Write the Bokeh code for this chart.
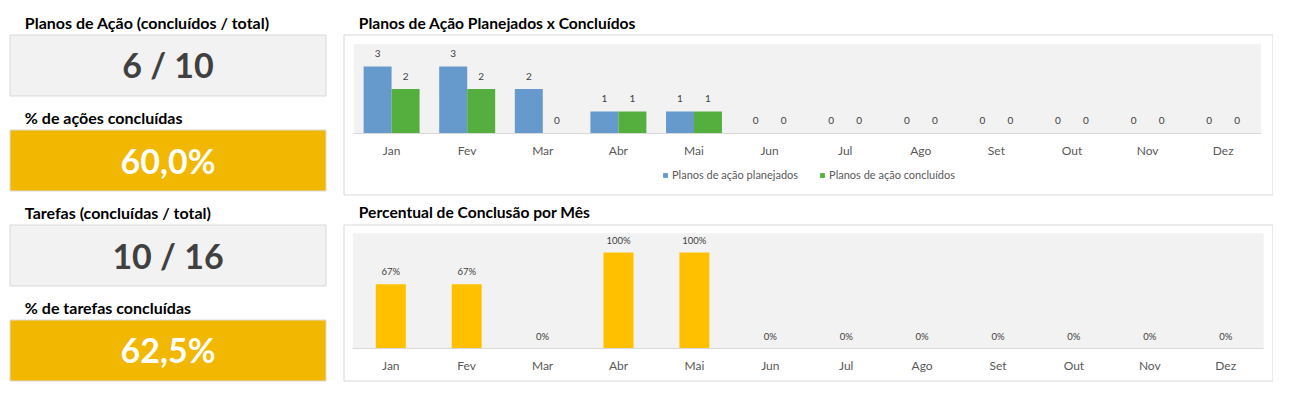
from bokeh.plotting import figure
from bokeh.models import Range1d, LinearAxis, FixedTicker, ColumnDataSource, Legend, LegendItem, Grid
from bokeh.core.properties import value
from bokeh.transform import dodge
from bokeh.embed import file_html
from bokeh.resources import INLINE

# ---------------- data ----------------
months = ["Jan", "Fev", "Mar", "Abr", "Mai", "Jun", "Jul", "Ago", "Set", "Out", "Nov", "Dez"]
planejados = [3, 3, 2, 1, 1, 0, 0, 0, 0, 0, 0, 0]
concluidos = [2, 2, 0, 1, 1, 0, 0, 0, 0, 0, 0, 0]
percentual = [0.67, 0.67, 0.0, 1.0, 1.0, 0.0, 0.0, 0.0, 0.0, 0.0, 0.0, 0.0]

kpi_titles = ["Planos de Ação (concluídos / total)", "% de ações concluídas",
              "Tarefas (concluídas / total)", "% de tarefas concluídas"]
kpi_values = ["6 / 10", "60,0%", "10 / 16", "62,5%"]
chart_titles = ["Planos de Ação Planejados x Concluídos", "Percentual de Conclusão por Mês"]
legend_labels = ["Planos de ação planejados", "Planos de ação concluídos"]

# ---------------- styles / layout (pixels) ----------------
W, H = 1273, 382
FONT = "Lato"
C_BLUE, C_GREEN, C_GOLD_BAR, C_GOLD_BOX = "#6699CC", "#55AF3E", "#FFC000", "#F2B700"
C_LIGHT, C_BORDER = "#F2F2F2", "#D9D9D9"

p = figure(width=W, height=H, x_range=Range1d(0, W), y_range=Range1d(H, 0),
           output_backend="svg", toolbar_location=None, tools="",
           x_axis_location=None, y_axis_location=None, min_border=0,
           outline_line_color=None, background_fill_color="white", border_fill_color="white")
p.center = [c for c in p.center if not isinstance(c, Grid)]

# ---- KPI panel ----
kpi = ColumnDataSource(dict(
    left=[9.5] * 4, right=[325.5] * 4,
    top=[34.5, 129.5, 224.5, 319.5], bottom=[95.5, 190.5, 285.5, 380.5],
    fill=[C_LIGHT, C_GOLD_BOX, C_LIGHT, C_GOLD_BOX],
    vcol=["#404040", "#FFFFFF", "#404040", "#FFFFFF"],
    tx=[24.3] * 4, ty=[22.0, 117.2, 212.0, 306.5],
    vx=[167.5] * 4, vy=[64.0, 159.8, 254.5, 349.3],
    title=kpi_titles, val=kpi_values))
p.quad(left="left", right="right", top="top", bottom="bottom", source=kpi,
       fill_color="fill", line_color=C_BORDER, line_width=1)
p.text(x="tx", y="ty", text="title", source=kpi, text_font=value(FONT),
       text_font_style="bold", text_font_size="16px", text_color="#000000",
       text_align="left", text_baseline="middle")
p.text(x="vx", y="vy", text="val", source=kpi, text_font=value(FONT),
       text_font_style="bold", text_font_size="34px", text_color="vcol",
       text_align="center", text_baseline="middle")

# ---- chart frames ----
p.quad(left=[343.5, 343.5], right=[1272.5, 1272.5], top=[34.5, 224.5], bottom=[194.5, 380.5],
       fill_color="white", line_color=C_BORDER, line_width=1)
p.text(x=[358.3, 358.3], y=[22.0, 211.8], text=chart_titles, text_font=value(FONT),
       text_font_style="bold", text_font_size="15.6px", text_color="#000000",
       text_align="left", text_baseline="middle")

idx = list(range(len(months)))
labels = {i: m for i, m in enumerate(months)}


def add_chart(name, j0, per, zero, unit, ymax):
    p.extra_x_ranges[name + "x"] = Range1d((0 - j0) / per, (W - j0) / per)
    p.extra_y_ranges[name + "y"] = Range1d((zero - H) / unit, zero / unit)
    kw = dict(x_range_name=name + "x", y_range_name=name + "y")
    p.quad(left=[-0.5], right=[len(months) - 0.5], bottom=[0], top=[ymax],
           fill_color=C_LIGHT, line_color=None, **kw)
    ax = LinearAxis(fixed_location=0, ticker=FixedTicker(ticks=idx),
                    major_label_overrides=labels, bounds=(-0.5, len(months) - 0.5),
                    axis_line_color=C_BORDER, axis_line_width=1,
                    major_tick_line_color=None, minor_tick_line_color=None,
                    major_label_standoff=3, major_label_text_font=FONT,
                    major_label_text_font_size="12px", major_label_text_color="#595959", **kw)
    p.add_layout(ax, "below")
    return kw


# ---- chart 1: planejados x concluídos ----
kw1 = add_chart("c1", 391.1, 75.6, 133.3, 22.4, 4)
src1 = ColumnDataSource(dict(idx=idx, plan=planejados, conc=concluidos,
                             lp=[str(v) for v in planejados], lc=[str(v) for v in concluidos]))
bw = 0.37
rb = p.vbar(x=dodge("idx", -bw / 2), top="plan", bottom=0, width=bw, source=src1,
            fill_color=C_BLUE, line_color=None, **kw1)
rg = p.vbar(x=dodge("idx", bw / 2), top="conc", bottom=0, width=bw, source=src1,
            fill_color=C_GREEN, line_color=None, **kw1)
for col, lab, off in (("plan", "lp", -bw / 2), ("conc", "lc", bw / 2)):
    p.text(x=dodge("idx", off), y=col, text=lab, source=src1, y_offset=-13,
           text_font=value(FONT), text_font_size="10px", text_color="#404040",
           text_align="center", text_baseline="middle", **kw1)

legend = Legend(items=[LegendItem(label=legend_labels[0], renderers=[rb]),
                       LegendItem(label=legend_labels[1], renderers=[rg])],
                location=(662, 201), orientation="horizontal",
                glyph_width=6, glyph_height=6, label_standoff=4, spacing=21,
                padding=0, margin=0, label_height=12,
                label_text_font=FONT, label_text_font_size="11px", label_text_color="#595959",
                border_line_color=None, background_fill_alpha=0)
p.add_layout(legend)

# ---- chart 2: percentual ----
kw2 = add_chart("c2", 390.3, 75.9, 348.3, 96.3, 1.2)
src2 = ColumnDataSource(dict(idx=idx, pct=percentual,
                             lab=[f"{round(v * 100)}%" for v in percentual]))
p.vbar(x="idx", top="pct", bottom=0, width=0.395, source=src2,
       fill_color=C_GOLD_BAR, line_color=None, **kw2)
p.text(x="idx", y="pct", text="lab", source=src2, y_offset=-12.5,
       text_font=value(FONT), text_font_size="9.5px", text_color="#404040",
       text_align="center", text_baseline="middle", **kw2)

open("out.html", "w").write(file_html(p, INLINE))
